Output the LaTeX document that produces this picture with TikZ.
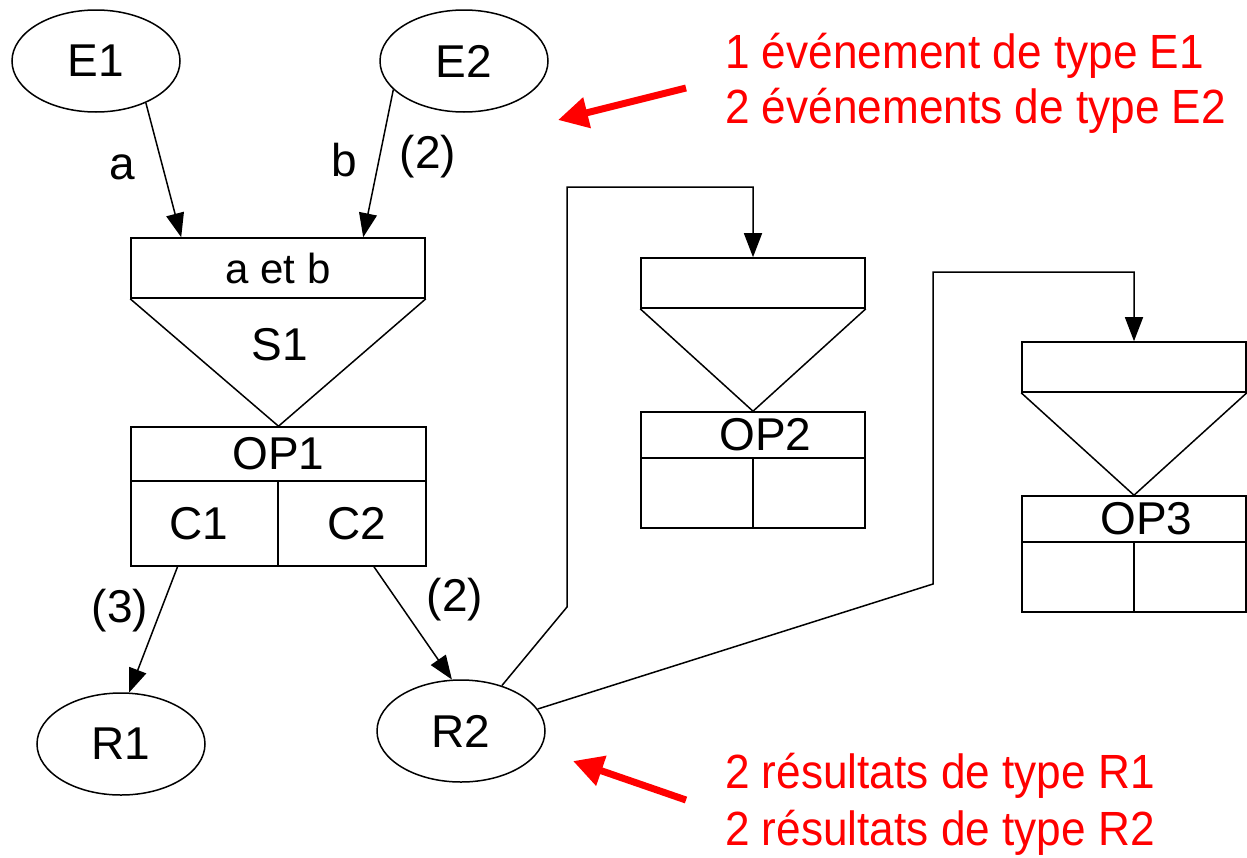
\documentclass[tikz,border=0pt]{standalone}
\usepackage{fontspec}
\setmainfont{Liberation Sans}
\newfontfamily\notefont{Liberation Sans}[FakeStretch=0.92]
\usetikzlibrary{arrows,arrows.meta,shapes}
\tikzstyle{event}=[ellipse, draw, line width=1.5pt
%,fill=black!5
,minimum width=168pt
,minimum height=102pt
,inner sep=0pt
]
\tikzstyle{inbox} = [rectangle, draw, line width=1.6pt, inner sep=0pt]
\tikzstyle{edge} = [draw, line width=1.5pt, -{Triangle[length=24pt,width=18pt]}]
\tikzstyle{link} = [draw, line width=1.5pt]
\tikzstyle{note} = [red, font=\notefont\fontsize{48}{55}\selectfont, anchor=base west, inner sep=0pt]
\tikzstyle{note arrow} = [draw, red, line width=7pt, -{Triangle[length=30pt,width=30pt]}]

\begin{document}
\begin{tikzpicture}[x=1pt,y=-1pt,font=\fontsize{46}{55}\selectfont]
    \useasboundingbox (0,0) rectangle (1247,857);
    % First we draw the events and the results
    \foreach \pos/\name in {{(96,61)/E1}, {(464,61)/E2}, {(121,744)/R1}, {(461,731)/R2}}
        \node[event] (\name) at \pos {\name};

    % Synchronisation S1 and operation OP1
    \node[inbox, minimum width=294pt, minimum height=60pt, font=\fontsize{42}{50}\selectfont] (S1in) at (278,268) {a et b};
    \node[inbox, minimum width=295pt, minimum height=54pt] (OP1) at (278.5,454) {OP1};
    \node[inbox, minimum width=147pt, minimum height=85pt] (C1) at (204.5,523.5) {\hspace*{-12pt}C1};
    \node[inbox, minimum width=148pt, minimum height=85pt] (C2) at (352,523.5) {\hspace*{10pt}C2};
    \path[link] (S1in.south west) -- (OP1.north) -- (S1in.south east);
    \node (S1) at (280,345) {S1};

    % Synchronisations and operations OP2, OP3
    \foreach \name/\x/\y in {2/641/258, 3/1022/342} {
        \node[inbox, minimum width=224pt, minimum height=50pt] (in\name) at (\x+112,\y+25) {};
        \node[inbox, minimum width=224pt, minimum height=46pt] (OP\name) at (\x+112,\y+177) {\hspace*{25pt}OP\name};
        \node[inbox, minimum width=112pt, minimum height=70pt] (cell\name a) at (\x+56,\y+235) {};
        \node[inbox, minimum width=112pt, minimum height=70pt] (cell\name b) at (\x+168,\y+235) {};
        \path[link] (in\name.south west) -- (OP\name.north) -- (in\name.south east);
    }

    % Connect with edges
    \path[edge] (E1.-40) -- ([xshift=51pt]S1in.north west);
    \path[edge] (E2.-158) -- ([xshift=233pt]S1in.north west);
    \path[edge] ([xshift=-27pt]C1.south) -- (R1.81);
    \path[edge] ([xshift=22pt]C2.south) -- (R2.100);
    \foreach \pos/\name/\txt in {{(122,167)/la/a}, {(344,160)/lb/b}, {(428,157)/lb2/(2)}, {(120,611)/lr1/(3)}, {(455,600)/lr2/(2)}}
        \node (\name) at \pos {\txt};

    % R2 goes on to OP2 and OP3
    \coordinate (k2) at (567,607);
    \coordinate (t2) at (567,187);
    \coordinate (k3) at (933,584);
    \coordinate (t3) at (933,272);
    \path[edge] (R2.48) -- (k2) -- (t2) -| (in2.north);
    \path[edge] (R2.16) -- (k3) -- (t3) -| (in3.north);

    % Notes in red
    \foreach \pos/\name/\txt in {{(725,68)/n1/1 événement de type E1}, {(725,123)/n2/2 événements de type E2}, {(725,788)/n3/2 résultats de type R1}, {(725,845)/n4/2 résultats de type R2}}
        \node[note] (\name) at \pos {\txt};
    \coordinate (tail1) at (686,88);
    \coordinate (tip1) at (558,120);
    \coordinate (tail2) at (686,800);
    \coordinate (tip2) at (573,761);
    \path[note arrow] (tail1) -- (tip1);
    \path[note arrow] (tail2) -- (tip2);
\end{tikzpicture}
\end{document}
